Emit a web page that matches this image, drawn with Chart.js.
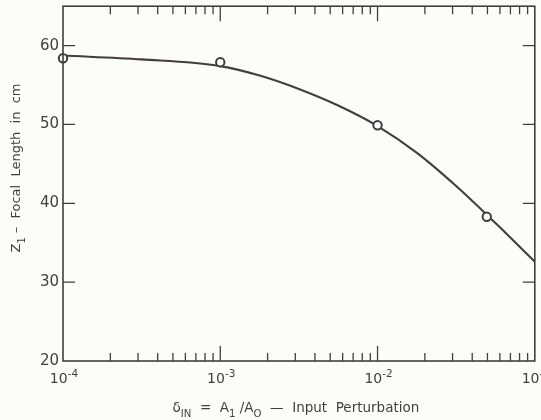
<!DOCTYPE html>
<html><head><meta charset="utf-8">
<script src="https://cdn.jsdelivr.net/npm/chart.js@4.4.0/dist/chart.umd.min.js"></script>
<style>
html,body{margin:0;padding:0;background:#fcfcf8;}
#wrap{width:541px;height:420px;}
</style></head>
<body><div id="wrap"><canvas id="c" width="541" height="420"></canvas></div>
<script>
// measured points (open circles)
const pointX = [1e-4, 1.0e-3, 1.0e-2, 4.95e-2];
const pointY = [58.4, 57.9, 49.9, 38.3];
// fitted curve
const curveX = [1e-4, 3.16e-4, 1.0e-3, 1.78e-3, 3.16e-3, 5.62e-3, 1.0e-2, 1.78e-2, 3.16e-2, 5.62e-2, 1e-1];
const curveY = [58.75, 58.25, 57.4, 56.2, 54.5, 52.4, 49.8, 46.4, 42.2, 37.5, 32.6];
// axes
const xTickValues = [1e-4, 1e-3, 1e-2, 1e-1];
const xTickLabels = ['10⁻⁴', '10⁻³', '10⁻²', '10⁻¹'];
const yTickValues = [20, 30, 40, 50, 60];
const yMin = 20, yMax = 65, xMin = 1e-4, xMax = 1e-1;
const yTitle = [['Z', 0], ['1', 1], [' –  Focal  Length  in  cm', 0]];
const xTitle = [['δ', 0], ['IN', 1], ['  =  A', 0], ['1', 1], [' /A', 0], ['O', 1], ['  —  Input  Perturbation', 0]];

const INK = '#433e3e';
const FONT = '"DejaVu Sans", sans-serif';
const SUP = {'⁻': '-', '⁰': '0', '¹': '1', '²': '2', '³': '3', '⁴': '4', '⁵': '5', '⁶': '6', '⁷': '7', '⁸': '8', '⁹': '9'};

function drawRich(ctx, parts, size) {
  let w = 0;
  parts.forEach(p => { ctx.font = (p[1] ? size * 0.75 : size) + 'px ' + FONT; w += ctx.measureText(p[0]).width; });
  let x = -w / 2;
  parts.forEach(p => {
    ctx.font = (p[1] ? size * 0.75 : size) + 'px ' + FONT;
    ctx.fillText(p[0], x, p[1] ? size * 0.35 : 0);
    x += ctx.measureText(p[0]).width;
  });
}

function drawPow(ctx, label, cx, baseY) {
  let base = '', exp = '';
  for (const ch of label) { if (SUP[ch] !== undefined) exp += SUP[ch]; else base += ch; }
  ctx.font = '14px ' + FONT;
  const wb = ctx.measureText(base).width;
  ctx.font = '10.5px ' + FONT;
  const we = ctx.measureText(exp).width;
  const x0 = cx - (wb + we) / 2;
  ctx.font = '14px ' + FONT;
  ctx.fillText(base, x0, baseY);
  ctx.font = '10.5px ' + FONT;
  ctx.fillText(exp, x0 + wb, baseY - 6);
}

const framePlugin = {
  id: 'frame',
  afterDatasetsDraw(chart) {
    const {ctx, chartArea: a, scales: {x, y}} = chart;
    ctx.save();
    ctx.strokeStyle = INK; ctx.lineWidth = 1.6;
    ctx.strokeRect(a.left, a.top, a.right - a.left, a.bottom - a.top);
    ctx.lineWidth = 1.3;
    for (let e = -4; e < -1; e++) {
      for (let m = 1; m <= 9; m++) {
        const v = m * Math.pow(10, e);
        if (v <= xMin * 1.0001 || v >= xMax * 0.9999) continue;
        const px = x.getPixelForValue(v);
        const len = m === 1 ? 15 : 8;
        ctx.beginPath();
        ctx.moveTo(px, a.bottom); ctx.lineTo(px, a.bottom - len);
        ctx.moveTo(px, a.top); ctx.lineTo(px, a.top + len);
        ctx.stroke();
      }
    }
    yTickValues.forEach(v => {
      if (v <= yMin) return;
      const py = y.getPixelForValue(v);
      ctx.beginPath();
      ctx.moveTo(a.left, py); ctx.lineTo(a.left + 12, py);
      ctx.moveTo(a.right, py); ctx.lineTo(a.right - 12, py);
      ctx.stroke();
    });
    ctx.fillStyle = INK;
    ctx.textAlign = 'left'; ctx.textBaseline = 'alphabetic';
    xTickValues.forEach((v, i) => {
      drawPow(ctx, xTickLabels[i], x.getPixelForValue(v) + 1, a.bottom + 22);
    });
    ctx.save();
    ctx.translate((a.left + a.right) / 2 - 3, 412);
    drawRich(ctx, xTitle, 13.5);
    ctx.restore();
    ctx.save();
    ctx.translate(20, 168);
    ctx.rotate(-Math.PI / 2);
    drawRich(ctx, yTitle, 13);
    ctx.restore();
    ctx.restore();
  }
};

new Chart(document.getElementById('c'), {
  type: 'scatter',
  plugins: [framePlugin],
  data: {
    datasets: [
      {
        data: curveX.map((v, i) => ({x: v, y: curveY[i]})),
        showLine: true, borderColor: INK, borderWidth: 2.1,
        pointRadius: 0, cubicInterpolationMode: 'monotone', fill: false, order: 2
      },
      {
        data: pointX.map((v, i) => ({x: v, y: pointY[i]})),
        showLine: false, pointRadius: 4.2, pointBorderWidth: 2,
        pointBorderColor: INK, pointBackgroundColor: '#fcfcf8', order: 1
      }
    ]
  },
  options: {
    responsive: false, animation: false,
    clip: false,
    layout: {padding: {top: 6, right: 6, left: 0, bottom: 0}},
    plugins: {legend: {display: false}, tooltip: {enabled: false}},
    scales: {
      x: {
        type: 'logarithmic', min: xMin, max: xMax,
        grid: {display: false, drawTicks: false}, border: {display: false},
        ticks: {display: false},
        afterFit(s) { s.height = 59; s.paddingLeft = 0; s.paddingRight = 0; }
      },
      y: {
        min: yMin, max: yMax,
        grid: {display: false, drawTicks: false}, border: {display: false},
        afterBuildTicks(s) { s.ticks = yTickValues.map(v => ({value: v})); },
        ticks: {color: INK, padding: 4, font: {family: FONT, size: 15}},
        afterFit(s) { s.width = 63; s.paddingTop = 0; s.paddingBottom = 0; }
      }
    }
  }
});
</script></body></html>
